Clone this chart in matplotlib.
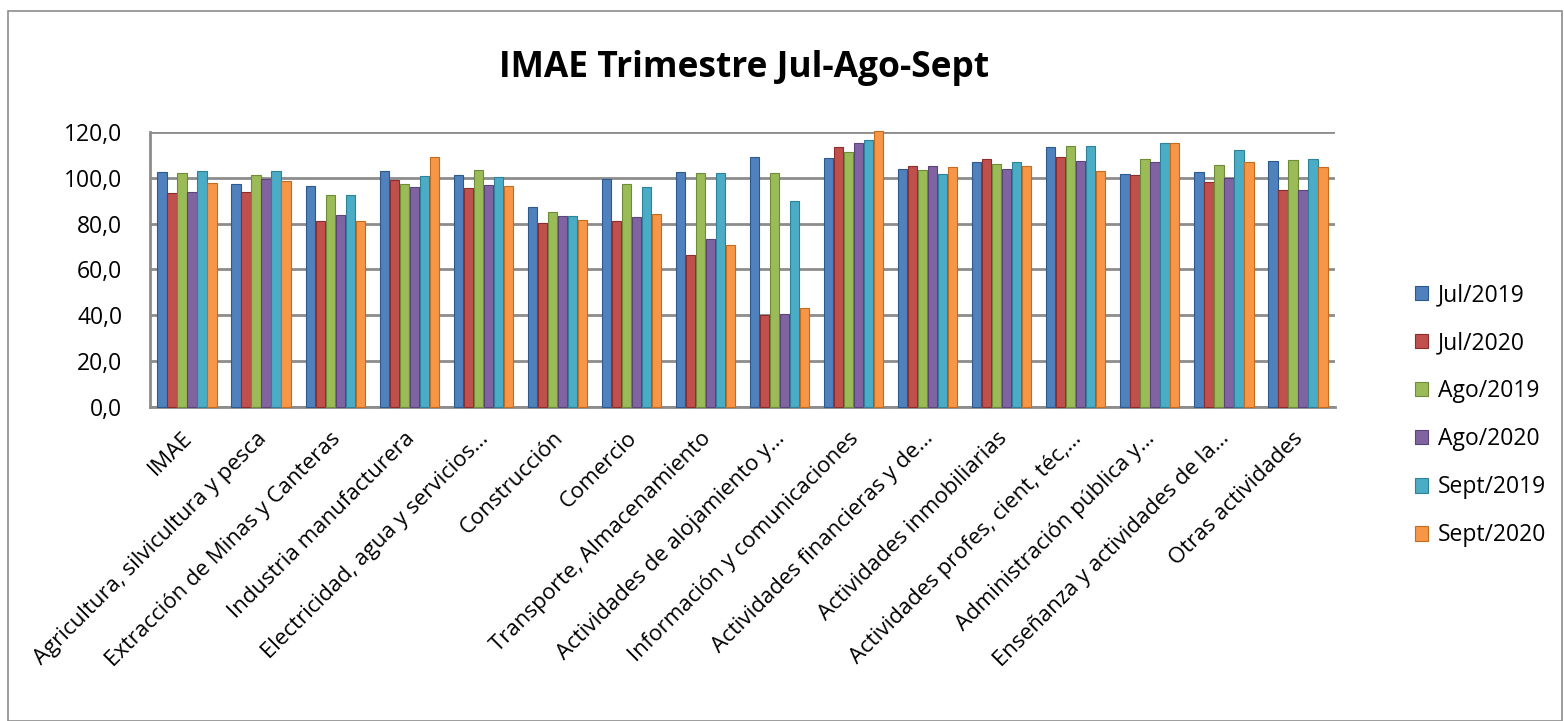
import numpy as np
import matplotlib
matplotlib.use('Agg')
import matplotlib.pyplot as plt
from matplotlib.patches import Rectangle

plt.rcParams['font.family'] = ['Open Sans', 'DejaVu Sans']

# Categories (as truncated in the original chart)
categories = [
    'IMAE',
    'Agricultura, silvicultura y pesca',
    'Extracción de Minas y Canteras',
    'Industria manufacturera',
    'Electricidad, agua y servicios…',
    'Construcción',
    'Comercio',
    'Transporte, Almacenamiento',
    'Actividades de alojamiento y…',
    'Información y comunicaciones',
    'Actividades financieras y de…',
    'Actividades inmobiliarias',
    'Actividades profes, cient, téc,…',
    'Administración pública y…',
    'Enseñanza y actividades de la…',
    'Otras actividades',
]

series_names = ['Jul/2019', 'Jul/2020', 'Ago/2019', 'Ago/2020', 'Sept/2019', 'Sept/2020']

jul_2019 = [102.7, 97.5, 96.4, 103.1, 101.2, 87.1, 99.3, 102.5, 109.0, 108.6, 103.7, 106.7, 113.5, 101.6, 102.4, 107.4]
jul_2020 = [93.3, 93.9, 81.2, 99.0, 95.6, 80.4, 81.3, 66.4, 40.1, 113.5, 105.2, 108.4, 108.9, 101.2, 98.2, 94.8]
ago_2019 = [101.9, 101.2, 92.7, 97.5, 103.4, 85.2, 97.5, 101.9, 101.9, 111.1, 103.4, 106.1, 113.8, 108.1, 105.5, 107.6]
ago_2020 = [93.9, 99.4, 83.9, 95.9, 96.9, 83.4, 82.7, 73.5, 40.7, 115.0, 105.3, 103.7, 107.4, 107.0, 100.1, 94.5]
sept_2019 = [103.1, 103.1, 92.3, 100.8, 100.3, 83.4, 96.0, 102.2, 89.8, 116.7, 101.5, 106.7, 113.8, 115.2, 112.3, 108.3]
sept_2020 = [97.6, 98.5, 81.2, 108.9, 96.3, 81.6, 84.1, 70.5, 43.2, 120.3, 104.9, 105.3, 103.0, 115.2, 107.1, 104.9]

colors = ['#4F81BD', '#C0504D', '#9BBB59', '#8064A2', '#4BACC6', '#F79646']
edge_colors = ['#2C5A8F', '#8C2D2B', '#6E8B38', '#5A447A', '#2D8199', '#C56B1E']

all_series = [jul_2019, jul_2020, ago_2019, ago_2020, sept_2019, sept_2020]

fig = plt.figure(figsize=(15.64, 7.21), dpi=100)
ax = fig.add_axes([0.096, 0.4355, 0.7575, 0.3815])

x = np.arange(len(categories))
n = len(all_series)
bar_w = 0.135
for i, (vals, name) in enumerate(zip(all_series, series_names)):
    offs = (i - (n - 1) / 2) * bar_w
    bars = ax.bar(x + offs, vals, width=bar_w * 0.95, color=colors[i], edgecolor=edge_colors[i],
                  linewidth=0.8, label=name, zorder=3)
    for b in bars:
        b.set_clip_on(False)

ax.set_xlim(-0.5, len(categories) - 0.5)
ax.set_ylim(0, 120)
ax.set_yticks(np.arange(0, 121, 20))
ax.set_yticklabels([f'{v:.1f}'.replace('.', ',') for v in np.arange(0, 121, 20)], fontsize=16.5)
ax.yaxis.grid(True, color='#8C8C8C', linewidth=2, zorder=0)
ax.tick_params(axis='y', length=0, pad=20)
ax.tick_params(axis='x', length=0, pad=15)
ax.set_xticks(x - 0.07)
ax.set_xticklabels(categories, rotation=45, ha='right', rotation_mode='anchor', fontsize=16)

for side in ['top', 'right']:
    ax.spines[side].set_visible(False)
for side in ['left', 'bottom']:
    ax.spines[side].set_color('#8C8C8C')
    ax.spines[side].set_linewidth(2)

fig.text(0.476, 0.905, 'IMAE Trimestre Jul-Ago-Sept', ha='center', va='center',
         fontsize=25.5, fontweight='bold')

ax.legend(loc='center left', bbox_to_anchor=(1.05, -0.03), frameon=False, fontsize=16.5,
          handlelength=0.6, handleheight=0.6, handletextpad=0.4, labelspacing=1.05)

# outer chart border
fig.patches.append(Rectangle((0.005, 0.0), 0.994, 0.985, transform=fig.transFigure,
                             fill=False, edgecolor='#8C8C8C', linewidth=1.2))

fig.savefig('out.png', dpi=100)
